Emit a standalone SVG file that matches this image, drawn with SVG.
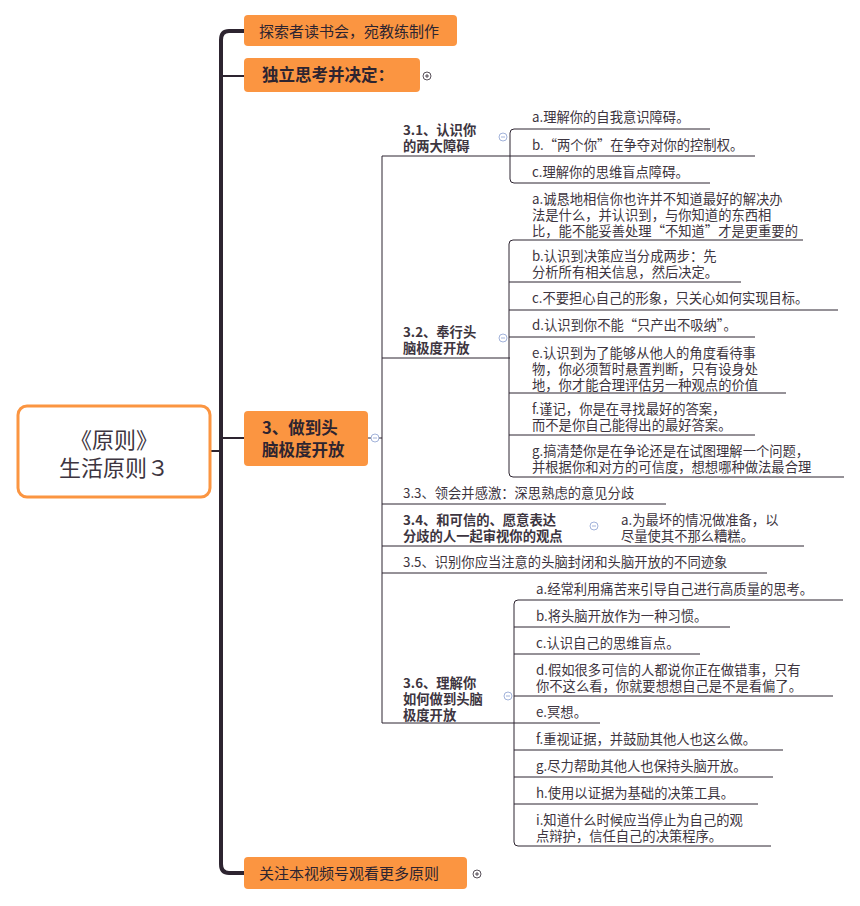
<svg xmlns="http://www.w3.org/2000/svg" width="860" height="906" viewBox="0 0 860 906">
<style>
text{font-family:"Noto Sans CJK SC","Liberation Sans",sans-serif;fill:#3d3540}
.t{font-size:13.3px}
.b{font-size:13.3px;font-weight:bold}
.box{fill:#fb9541}
.bt{font-size:15px;fill:#2d2430}
.bb{font-size:16.5px;font-weight:bold;fill:#2d2430}
.l{stroke:#2d2430;stroke-width:1;fill:none}
.ic{fill:#fff;stroke-width:0.8}
</style>
<rect width="860" height="906" fill="#fff"/>
<g id="connectors">
<path d="M244,31 H229 Q221,31 221,40 V864 Q221,873 229,873 H244" stroke="#2d2430" stroke-width="4" fill="none"/>
<path d="M221,76 Q221,76 229,76 H244" stroke="#2d2430" stroke-width="2" fill="none"/>
<path d="M210,451 H221 M221,438 H244" stroke="#2d2430" stroke-width="2" fill="none"/>
<path class="l" d="M382,438 H368 M382,156 V723"/>
<path class="l" d="M382,156 H510 M382,358 H510 M382,504 H666 M382,546 H804 M382,573 H767 M382,723 H600"/>
<path class="l" d="M710,129 H514 Q510,129 510,133 V179 Q510,183 514,183 H710 M510,156 H755"/>
<path class="l" d="M803,240 H513 Q509,240 509,244 V473 Q509,477 513,477 H844 M509,282 H741 M509,310 H838 M509,337 H755 M509,393 H786 M509,435 H755"/>
<path class="l" d="M843,600 H518 Q514,600 514,604 V842 Q514,846 518,846 H771 M514,627 H730 M514,654 H700 M514,696 H833 M514,750 H783 M514,777 H773 M514,804 H758"/>
</g>
<g id="root"><rect x="18" y="406" width="192" height="91" rx="9" fill="#fff" stroke="#fb9541" stroke-width="3"/>
<text x="114" y="448" text-anchor="middle" font-size="22">《原则》</text>
<text x="114" y="476" text-anchor="middle" font-size="22">生活原则３</text></g>
<g id="n-top"><rect class="box" x="244" y="15" width="213" height="31" rx="4"/><text class="bt" x="259" y="37">探索者读书会，宛教练制作</text></g>
<g id="n-think"><rect class="box" x="244" y="58" width="176" height="34" rx="4"/><text class="bb" x="262" y="81">独立思考并决定：</text>
<circle class="ic" cx="427" cy="76" r="4" stroke="#2d2430"/><path d="M425,76 H429 M427,74 V78" stroke="#2d2430" stroke-width="0.8"/></g>
<g id="n-3"><rect class="box" x="244" y="411" width="124" height="55" rx="4"/><text class="bb" x="262" y="434">3、做到头</text><text class="bb" x="262" y="456">脑极度开放</text>
<circle class="ic" cx="375" cy="438" r="4" stroke="#8aa0d0"/><path d="M373,438 H377" stroke="#8aa0d0" stroke-width="0.8"/></g>
<g id="n-bottom"><rect class="box" x="244" y="857" width="223" height="32" rx="4"/><text class="bt" x="259" y="879">关注本视频号观看更多原则</text>
<circle class="ic" cx="477" cy="874" r="4" stroke="#2d2430"/><path d="M475,874 H479 M477,872 V876" stroke="#2d2430" stroke-width="0.8"/></g>
<g id="n31"><text class="b" x="403" y="135">3.1、认识你</text><text class="b" x="403" y="151">的两大障碍</text>
<circle class="ic" cx="503" cy="137" r="4" stroke="#8aa0d0"/><path d="M501,137 H505" stroke="#8aa0d0" stroke-width="0.8"/></g>
<g id="n31a"><text class="t" x="532" y="122">a.理解你的自我意识障碍。</text></g>
<g id="n31b"><text class="t" x="532" y="150">b.“两个你”在争夺对你的控制权。</text></g>
<g id="n31c"><text class="t" x="532" y="177">c.理解你的思维盲点障碍。</text></g>
<g id="n32"><text class="b" x="403" y="337">3.2、奉行头</text><text class="b" x="403" y="353">脑极度开放</text>
<circle class="ic" cx="503" cy="338" r="4" stroke="#8aa0d0"/><path d="M501,338 H505" stroke="#8aa0d0" stroke-width="0.8"/></g>
<g id="n32a"><text class="t" x="532" y="204">a.诚恳地相信你也许并不知道最好的解决办</text><text class="t" x="532" y="220">法是什么，并认识到，与你知道的东西相</text><text class="t" x="532" y="236">比，能不能妥善处理“不知道”才是更重要的</text></g>
<g id="n32b"><text class="t" x="532" y="261">b.认识到决策应当分成两步：先</text><text class="t" x="532" y="277">分析所有相关信息，然后决定。</text></g>
<g id="n32c"><text class="t" x="532" y="303">c.不要担心自己的形象，只关心如何实现目标。</text></g>
<g id="n32d"><text class="t" x="532" y="330">d.认识到你不能“只产出不吸纳”。</text></g>
<g id="n32e"><text class="t" x="532" y="358">e.认识到为了能够从他人的角度看待事</text><text class="t" x="532" y="374">物，你必须暂时悬置判断，只有设身处</text><text class="t" x="532" y="390">地，你才能合理评估另一种观点的价值</text></g>
<g id="n32f"><text class="t" x="532" y="414">f.谨记，你是在寻找最好的答案，</text><text class="t" x="532" y="430">而不是你自己能得出的最好答案。</text></g>
<g id="n32g"><text class="t" x="532" y="456">g.搞清楚你是在争论还是在试图理解一个问题，</text><text class="t" x="532" y="472">并根据你和对方的可信度，想想哪种做法最合理</text></g>
<g id="n33"><text class="t" x="403" y="498">3.3、领会并感激：深思熟虑的意见分歧</text></g>
<g id="n34"><text class="b" x="403" y="525">3.4、和可信的、愿意表达</text><text class="b" x="403" y="541">分歧的人一起审视你的观点</text>
<circle class="ic" cx="594" cy="526" r="4" stroke="#8aa0d0"/><path d="M592,526 H596" stroke="#8aa0d0" stroke-width="0.8"/></g>
<g id="n34a"><text class="t" x="621" y="525">a.为最坏的情况做准备，以</text><text class="t" x="621" y="541">尽量使其不那么糟糕。</text></g>
<g id="n35"><text class="t" x="403" y="567">3.5、识别你应当注意的头脑封闭和头脑开放的不同迹象</text></g>
<g id="n36"><text class="b" x="403" y="688">3.6、理解你</text><text class="b" x="403" y="704">如何做到头脑</text><text class="b" x="403" y="720">极度开放</text>
<circle class="ic" cx="508" cy="696" r="4" stroke="#8aa0d0"/><path d="M506,696 H510" stroke="#8aa0d0" stroke-width="0.8"/></g>
<g id="n36a"><text class="t" x="536" y="594">a.经常利用痛苦来引导自己进行高质量的思考。</text></g>
<g id="n36b"><text class="t" x="536" y="621">b.将头脑开放作为一种习惯。</text></g>
<g id="n36c"><text class="t" x="536" y="648">c.认识自己的思维盲点。</text></g>
<g id="n36d"><text class="t" x="536" y="675">d.假如很多可信的人都说你正在做错事，只有</text><text class="t" x="536" y="691">你不这么看，你就要想想自己是不是看偏了。</text></g>
<g id="n36e"><text class="t" x="536" y="717">e.冥想。</text></g>
<g id="n36f"><text class="t" x="536" y="744">f.重视证据，并鼓励其他人也这么做。</text></g>
<g id="n36g"><text class="t" x="536" y="771">g.尽力帮助其他人也保持头脑开放。</text></g>
<g id="n36h"><text class="t" x="536" y="798">h.使用以证据为基础的决策工具。</text></g>
<g id="n36i"><text class="t" x="536" y="825">i.知道什么时候应当停止为自己的观</text><text class="t" x="536" y="841">点辩护，信任自己的决策程序。</text></g>
</svg>
